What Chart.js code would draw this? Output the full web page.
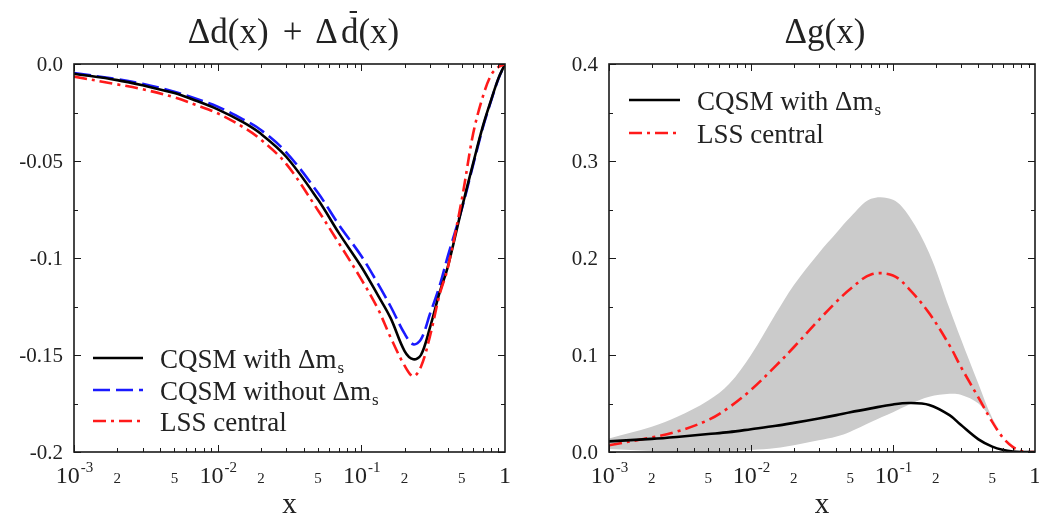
<!DOCTYPE html>
<html><head><meta charset="utf-8">
<script src="https://cdn.jsdelivr.net/npm/chart.js@4.4.0/dist/chart.umd.min.js"></script>
<style>
html,body{margin:0;padding:0;background:#fff;overflow:hidden;width:1039px;height:516px}
canvas{position:absolute;top:0}
#c1{left:0}
#c2{left:540px}
</style></head><body>
<canvas id="c1" width="540" height="516"></canvas>
<canvas id="c2" width="499" height="516"></canvas>
<script>
// ---------- data: left panel  Δd(x)+Δd̄(x) ----------
const xLeft     = [0.001,0.002,0.003,0.005,0.007,0.01,0.015,0.02,0.03,0.05,0.07,0.1,0.13,0.16,0.2,0.23,0.26,0.3,0.35,0.4,0.5,0.6,0.7,0.8,0.9,1.0];
const dCQSM     = [-0.005,-0.0083,-0.011,-0.015,-0.0188,-0.0234,-0.030,-0.036,-0.0478,-0.070,-0.0873,-0.1045,-0.119,-0.131,-0.148,-0.1522,-0.150,-0.136,-0.118,-0.1045,-0.0744,-0.0512,-0.0323,-0.0186,-0.0074,0];
const dCQSMnoMs = [-0.0047,-0.0078,-0.0102,-0.0143,-0.0178,-0.022,-0.0285,-0.034,-0.0455,-0.0665,-0.083,-0.099,-0.113,-0.125,-0.139,-0.1445,-0.142,-0.129,-0.1145,-0.099,-0.0748,-0.052,-0.033,-0.019,-0.0076,0];
const dLSS      = [-0.0065,-0.0105,-0.013,-0.0172,-0.021,-0.0254,-0.0325,-0.039,-0.0515,-0.0755,-0.0925,-0.111,-0.126,-0.141,-0.1555,-0.161,-0.156,-0.1405,-0.119,-0.105,-0.070,-0.036,-0.017,-0.0057,-0.0016,0];

// ---------- data: right panel  Δg(x) ----------
const xRight    = [0.001,0.002,0.003,0.005,0.007,0.01,0.015,0.02,0.03,0.04,0.05,0.07,0.1,0.13,0.18,0.25,0.3,0.4,0.5,0.6,0.7,0.8,0.9,1.0];
const gCQSM     = [0.011,0.0135,0.0155,0.0185,0.0205,0.0235,0.027,0.030,0.0345,0.038,0.041,0.045,0.049,0.0505,0.0485,0.038,0.028,0.013,0.0055,0.002,0.0005,0,0,0];
const gLSS      = [0.007,0.015,0.021,0.033,0.046,0.064,0.089,0.108,0.136,0.155,0.168,0.183,0.182,0.168,0.143,0.11,0.088,0.056,0.031,0.014,0.005,0.001,0,0];
const gBandLow  = [0.003,0.001,0,0,0.001,0.002,0.004,0.007,0.012,0.016,0.021,0.031,0.041,0.049,0.057,0.060,0.059,0.050,0.033,0.018,0.007,0.001,0,0];
const gBandHigh = [0.014,0.026,0.036,0.053,0.070,0.100,0.143,0.172,0.205,0.226,0.242,0.261,0.260,0.243,0.205,0.148,0.117,0.070,0.035,0.018,0.007,0.001,0,0];

// ---------- tick labels ----------
const xDecades      = [0.001,0.01,0.1,1];
const xDecadeBase   = ['10','10','10','1'];
const xDecadeExp    = ['-3','-2','-1',''];
const xMinorValues  = [0.002,0.005,0.02,0.05,0.2,0.5];
const xMinorLabels  = ['2','5','2','5','2','5'];
const leftYValues   = [0,-0.05,-0.1,-0.15,-0.2];
const leftYLabels   = ['0.0','-0.05','-0.1','-0.15','-0.2'];
const rightYValues  = [0,0.1,0.2,0.3,0.4];
const rightYLabels  = ['0.0','0.1','0.2','0.3','0.4'];

const SERIF = '"Liberation Serif","Times New Roman",serif';
const BLUE_DASH = [17,6];
const RED_DASH = [13,5,3,5];

function pts(xs, ys){ return xs.map((x,i)=>({x:x,y:ys[i]})); }

function decoPlugin(o){
  return {
    id:'deco',
    afterDatasetsDraw(chart){
      const ctx=chart.ctx, a=chart.chartArea, xs=chart.scales.x, ys=chart.scales.y;
      ctx.save();
      ctx.strokeStyle='#1a1a1a';
      ctx.lineWidth=1;
      const ln=(x1,y1,x2,y2)=>{ctx.beginPath();ctx.moveTo(x1,y1);ctx.lineTo(x2,y2);ctx.stroke();};
      // x ticks (inward, top & bottom)
      for(let d=-3; d<0; d++){
        for(let m=1;m<=9;m++){
          const v=m*Math.pow(10,d);
          const px=Math.round(xs.getPixelForValue(v))+0.5;
          const L = m===1?7:4;
          ln(px,a.bottom,px,a.bottom-L);
          ln(px,a.top,px,a.top+L);
        }
      }
      // y ticks (inward, left & right)
      const steps = Math.round((o.yMax-o.yMin)/o.yMinorStep);
      for(let i=0;i<=steps;i++){
        const v=o.yMin+i*o.yMinorStep;
        const py=Math.round(ys.getPixelForValue(v))+0.5;
        const major = Math.abs(v/o.yMajorStep - Math.round(v/o.yMajorStep))<1e-6;
        const L = major?7:4;
        ln(a.left,py,a.left+L,py);
        ln(a.right,py,a.right-L,py);
      }
      // frame
      ctx.lineWidth=1.6;
      ctx.strokeRect(a.left,a.top,a.right-a.left,a.bottom-a.top);

      // y tick labels
      ctx.fillStyle='#222';
      ctx.font='21px '+SERIF;
      ctx.textAlign='right';
      ctx.textBaseline='middle';
      o.yValues.forEach((v,i)=>{
        ctx.fillText(o.yLabels[i], a.left-11, ys.getPixelForValue(v)+1);
      });
      // x decade labels
      ctx.textBaseline='alphabetic';
      ctx.textAlign='left';
      xDecades.forEach((v,i)=>{
        const px=xs.getPixelForValue(v);
        ctx.font='24px '+SERIF;
        const wb=ctx.measureText(xDecadeBase[i]).width;
        ctx.font='15px '+SERIF;
        const we=ctx.measureText(xDecadeExp[i]).width;
        const start=px-(wb+we)/2;
        ctx.font='24px '+SERIF;
        ctx.fillText(xDecadeBase[i], start, a.bottom+31);
        ctx.font='15px '+SERIF;
        ctx.fillText(xDecadeExp[i], start+wb+1, a.bottom+20);
      });
      ctx.textAlign='center';
      ctx.font='15px '+SERIF;
      xMinorValues.forEach((v,i)=>{
        ctx.fillText(xMinorLabels[i], xs.getPixelForValue(v), a.bottom+31);
      });
      // axis title x
      ctx.font='29px '+SERIF;
      ctx.fillText('x', (a.left+a.right)/2, 513);
      // panel title
      o.title(ctx, (a.left+a.right)/2);
      // legend
      o.legend.forEach((it,i)=>{
        ctx.save();
        ctx.strokeStyle=it.color; ctx.lineWidth=2.6;
        ctx.setLineDash(it.dash||[]);
        ln(o.legendX, it.y, o.legendX+o.legendLen, it.y);
        ctx.restore();
        ctx.fillStyle='#222';
        ctx.textAlign='left';
        ctx.font='27px '+SERIF;
        const tx=o.legendX+o.legendLen+17;
        ctx.fillText(it.text, tx, it.y+10);
        if(it.sub){
          const w=ctx.measureText(it.text).width;
          ctx.font='17px '+SERIF;
          ctx.fillText(it.sub, tx+w+1, it.y+15);
        }
      });
      ctx.restore();
    }
  };
}

function baseOptions(pad, ymin, ymax){
  return {
    responsive:false, animation:false, devicePixelRatio:1,
    layout:{padding:pad},
    plugins:{legend:{display:false}, title:{display:false}, tooltip:{enabled:false}},
    elements:{point:{radius:0}, line:{tension:0.35}},
    scales:{
      x:{type:'logarithmic', min:0.001, max:1, display:false},
      y:{type:'linear', min:ymin, max:ymax, display:false}
    }
  };
}

// ---------- left chart ----------
new Chart(document.getElementById('c1'), {
  type:'line',
  data:{datasets:[
    {label:'CQSM with Δms', data:pts(xLeft,dCQSM), borderColor:'#000000', borderWidth:2.6, fill:false, order:2},
    {label:'CQSM without Δms', data:pts(xLeft,dCQSMnoMs), borderColor:'#1a1aff', borderWidth:2.6, borderDash:BLUE_DASH, fill:false, order:3},
    {label:'LSS central', data:pts(xLeft,dLSS), borderColor:'#ff1a1a', borderWidth:2.6, borderDash:RED_DASH, fill:false, order:1}
  ]},
  options:baseOptions({left:74,right:35,top:64,bottom:64}, -0.2, 0),
  plugins:[decoPlugin({
    yMin:-0.2, yMax:0, yMinorStep:0.025, yMajorStep:0.05,
    yValues:leftYValues, yLabels:leftYLabels,
    legendX:93, legendLen:50,
    legend:[
      {text:'CQSM with Δm', sub:'s', color:'#000', y:358},
      {text:'CQSM without Δm', sub:'s', color:'#1a1aff', dash:BLUE_DASH, y:390},
      {text:'LSS central', color:'#ff1a1a', dash:RED_DASH, y:421}
    ],
    title:(ctx,cx)=>{
      ctx.save();
      ctx.fillStyle='#222';
      ctx.font='35px '+SERIF;
      ctx.textAlign='left';
      const p1='Δd(x)', p2='+', p3='Δ', p4='d', p5='(x)';
      const g1=14, g2=13, g3=3;
      const w1=ctx.measureText(p1).width, w2=ctx.measureText(p2).width, w3=ctx.measureText(p3).width,
            w4=ctx.measureText(p4).width, w5=ctx.measureText(p5).width;
      const total=w1+g1+w2+g2+w3+g3+w4+w5;
      let x=cx+4-total/2; const by=43;
      ctx.fillText(p1,x,by); x+=w1+g1;
      ctx.fillText(p2,x,by); x+=w2+g2;
      ctx.fillText(p3,x,by); x+=w3+g3;
      ctx.fillText(p4,x,by);
      ctx.strokeStyle='#222'; ctx.lineWidth=2;
      ctx.beginPath(); ctx.moveTo(x+w4*0.5,by-31); ctx.lineTo(x+w4*0.92,by-31); ctx.stroke();
      x+=w4;
      ctx.fillText(p5,x,by);
      ctx.restore();
    }
  })]
});

// ---------- right chart ----------
new Chart(document.getElementById('c2'), {
  type:'line',
  data:{datasets:[
    {label:'band low', data:pts(xRight,gBandLow), borderWidth:0, borderColor:'rgba(0,0,0,0)', fill:false, order:10},
    {label:'band high', data:pts(xRight,gBandHigh), borderWidth:0, borderColor:'rgba(0,0,0,0)', backgroundColor:'#cbcbcb', fill:0, order:9},
    {label:'CQSM with Δms', data:pts(xRight,gCQSM), borderColor:'#000000', borderWidth:2.6, fill:false, order:1},
    {label:'LSS central', data:pts(xRight,gLSS), borderColor:'#ff1a1a', borderWidth:2.6, borderDash:RED_DASH, fill:false, order:2}
  ]},
  options:baseOptions({left:69,right:4,top:64,bottom:64}, 0, 0.4),
  plugins:[decoPlugin({
    yMin:0, yMax:0.4, yMinorStep:0.05, yMajorStep:0.1,
    yValues:rightYValues, yLabels:rightYLabels,
    legendX:89, legendLen:51,
    legend:[
      {text:'CQSM with Δm', sub:'s', color:'#000', y:100},
      {text:'LSS central', color:'#ff1a1a', dash:RED_DASH, y:133}
    ],
    title:(ctx,cx)=>{
      ctx.save();
      ctx.fillStyle='#222';
      ctx.font='35px '+SERIF;
      ctx.textAlign='center';
      ctx.fillText('Δg(x)', cx+3, 43);
      ctx.restore();
    }
  })]
});
</script>
</body></html>
